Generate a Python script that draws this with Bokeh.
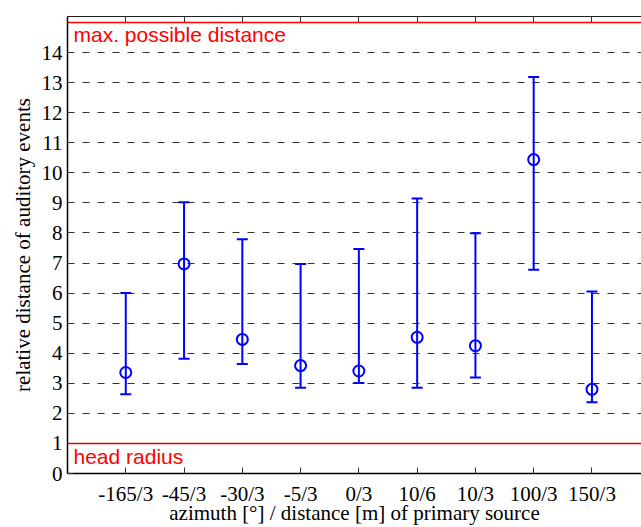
from bokeh.plotting import figure
from bokeh.models import (Range1d, FixedTicker, LinearAxis, Span, Whisker,
                          TeeHead, ColumnDataSource, Label)
from bokeh.embed import file_html
from bokeh.resources import INLINE

# ---- data -------------------------------------------------------------
categories = ["-165/3", "-45/3", "-30/3", "-5/3", "0/3",
              "10/6", "10/3", "100/3", "150/3"]
median_vals = [3.36, 6.97, 4.46, 3.59, 3.41, 4.53, 4.25, 10.44, 2.80]
lower_vals = [2.64, 3.82, 3.64, 2.85, 3.01, 2.85, 3.19, 6.78, 2.37]
upper_vals = [6.00, 9.02, 7.79, 6.97, 7.47, 9.15, 7.99, 13.19, 6.05]
y_ticks = list(range(0, 15))
max_distance = 15
head_radius = 1

# ---- styling constants --------------------------------------------------
BLUE = "#0000FF"
RED = "#FF0000"
SERIF = "Liberation Serif"
SANS = "Liberation Sans"
TOP_TEXT_Y = 14.59
BOTTOM_TEXT_Y = 0.57

xs = list(range(1, len(categories) + 1))
src = ColumnDataSource(dict(x=xs, median=median_vals,
                            lower=lower_vals, upper=upper_vals))

p = figure(width=641, height=527, output_backend="svg", toolbar_location=None,
           x_range=Range1d(0, 9.85), y_range=Range1d(0, 15.2),
           min_border_left=67, min_border_top=16, min_border_right=0,
           min_border_bottom=52)
p.outline_line_color = None
p.background_fill_color = "white"
p.border_fill_color = "white"

# grid
p.xgrid.visible = False
p.ygrid.ticker = FixedTicker(ticks=list(range(2, 15)))
p.ygrid.grid_line_dash = "7 8"
p.ygrid.grid_line_color = "#333333"
p.ygrid.grid_line_width = 1

# x axis (bottom)
xax = p.xaxis[0]
xax.ticker = FixedTicker(ticks=xs)
xax.major_label_overrides = {i: c for i, c in zip(xs, categories)}
xax.major_tick_in = 6
xax.major_tick_out = 0
xax.minor_tick_line_color = None
xax.axis_line_width = 1.5
xax.axis_line_color = "black"
xax.major_tick_line_color = "#333333"
xax.major_label_text_font = SERIF
xax.major_label_text_font_size = "21px"
xax.major_label_text_color = "black"
xax.major_label_standoff = 8
xax.axis_label = "azimuth [°] / distance [m] of primary source"
xax.axis_label_text_font = SERIF
xax.axis_label_text_font_size = "21px"
xax.axis_label_text_font_style = "normal"
xax.axis_label_text_color = "black"
xax.axis_label_standoff = -8

# y axis (left)
yax = p.yaxis[0]
yax.ticker = FixedTicker(ticks=y_ticks)
yax.major_tick_in = 6
yax.major_tick_out = 0
yax.minor_tick_line_color = None
yax.axis_line_width = 1.5
yax.axis_line_color = "black"
yax.major_tick_line_color = "#333333"
yax.major_label_text_font = SERIF
yax.major_label_text_font_size = "21px"
yax.major_label_text_color = "black"
yax.major_label_standoff = 5
yax.axis_label = "relative distance of auditory events"
yax.axis_label_text_font = SERIF
yax.axis_label_text_font_size = "21px"
yax.axis_label_text_font_style = "normal"
yax.axis_label_text_color = "black"
yax.axis_label_standoff = 4

# top axis: ticks only
top = LinearAxis(ticker=FixedTicker(ticks=xs))
top.major_tick_in = 6
top.major_tick_out = 0
top.minor_tick_line_color = None
top.major_label_text_color = None
top.major_label_text_font_size = "1px"
top.major_label_standoff = 0
top.axis_line_color = "#222222"
top.axis_line_width = 1.2
top.major_tick_line_color = "#333333"
p.add_layout(top, "above")

# reference lines
p.add_layout(Span(location=max_distance, dimension="width",
                  line_color=RED, line_width=1.5))
p.add_layout(Span(location=head_radius, dimension="width",
                  line_color="#E00000", line_width=1.5))
p.add_layout(Label(x=0, y=TOP_TEXT_Y, x_offset=6, text="max. possible distance",
                   text_font=SANS, text_font_size="21px", text_color=RED,
                   text_baseline="alphabetic"))
p.add_layout(Label(x=0, y=BOTTOM_TEXT_Y, x_offset=6, text="head radius",
                   text_font=SANS, text_font_size="21px", text_color=RED,
                   text_baseline="alphabetic"))

# error bars
w = Whisker(source=src, base="x", upper="upper", lower="lower",
            line_color=BLUE, line_width=2,
            upper_head=TeeHead(size=11, line_color=BLUE, line_width=2),
            lower_head=TeeHead(size=11, line_color=BLUE, line_width=2))
w.level = "overlay"
p.add_layout(w)

p.scatter("x", "median", source=src, marker="circle", size=11,
          fill_color=None, line_color=BLUE, line_width=2, level="overlay")

open("out.html", "w").write(file_html(p, INLINE))
